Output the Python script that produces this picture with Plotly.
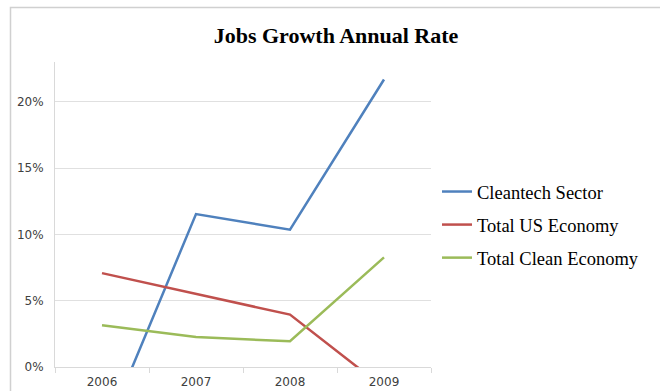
import plotly.graph_objects as go

years = ["2006", "2007", "2008", "2009"]
cleantech = [-0.0548, 0.1153, 0.1035, 0.2168]
us_economy = [0.0708, 0.0549, 0.0395, -0.0157]
clean_economy = [0.0314, 0.0226, 0.0194, 0.0827]
series_names = ["Cleantech Sector", "Total US Economy", "Total Clean Economy"]
colors = ["#4F81BD", "#C0504D", "#9BBB59"]
ytick_vals = [0, 0.05, 0.10, 0.15, 0.20]
ytick_text = ["0%", "5%", "10%", "15%", "20%"]

fig = go.Figure()
for i, (name, vals) in enumerate(zip(series_names, [cleantech, us_economy, clean_economy])):
    fig.add_trace(go.Scatter(x=years, y=vals, mode="lines", name=name,
                             legendgroup=name,
                             line=dict(color=colors[i], width=2.5)))

W, H = 660, 391
L, R, T, B = 55, 431, 62, 367
pw, ph = R - L, B - T
def px2x(px):
    return (px - L) / pw
def py2y(py):
    return (B - py) / ph

fig.add_shape(type="rect", xref="paper", yref="paper",
              x0=px2x(10.5), y0=py2y(7.5), x1=px2x(700), y1=py2y(420),
              line=dict(color="#d0d0d0", width=1.5), fillcolor="rgba(0,0,0,0)", layer="below")

fig.update_layout(
    width=W, height=H,
    margin=dict(l=L, r=W - R, t=T, b=H - B, pad=0, autoexpand=False),
    paper_bgcolor="white", plot_bgcolor="white",
    title=dict(text="<b>Jobs Growth Annual Rate</b>", x=336 / W, xanchor="center",
               y=1 - 35 / H, yanchor="middle",
               font=dict(family="Liberation Serif", size=22, color="black")),
    showlegend=True,
    legend=dict(x=px2x(437), y=py2y(225), xanchor="left", yanchor="middle",
                font=dict(family="Liberation Serif", size=18.5, color="black"),
                traceorder="grouped", tracegroupgap=6, itemwidth=30,
                bgcolor="rgba(0,0,0,0)"),
    xaxis=dict(type="category", range=[-0.5, 3.5], showgrid=False, automargin=False,
               showline=True, linecolor="#d9d9d9", linewidth=1,
               ticks="outside", tickson="boundaries", ticklen=5, tickcolor="#d9d9d9",
               ticklabelstandoff=4,
               tickfont=dict(family="DejaVu Sans", size=12, color="#404040"),
               zeroline=False, fixedrange=True),
    yaxis=dict(range=[0, 0.23], tickvals=ytick_vals, ticktext=ytick_text,
               showgrid=True, gridcolor="#e0e0e0", gridwidth=1, automargin=False,
               showline=True, linecolor="#d9d9d9", linewidth=1,
               ticks="", ticklabelstandoff=8,
               tickfont=dict(family="DejaVu Sans", size=12, color="#404040"),
               zeroline=False, fixedrange=True),
)

fig.write_html("out.html", config={"displayModeBar": False},
               post_script="document.body.style.margin='0';document.body.style.overflow='hidden';")
